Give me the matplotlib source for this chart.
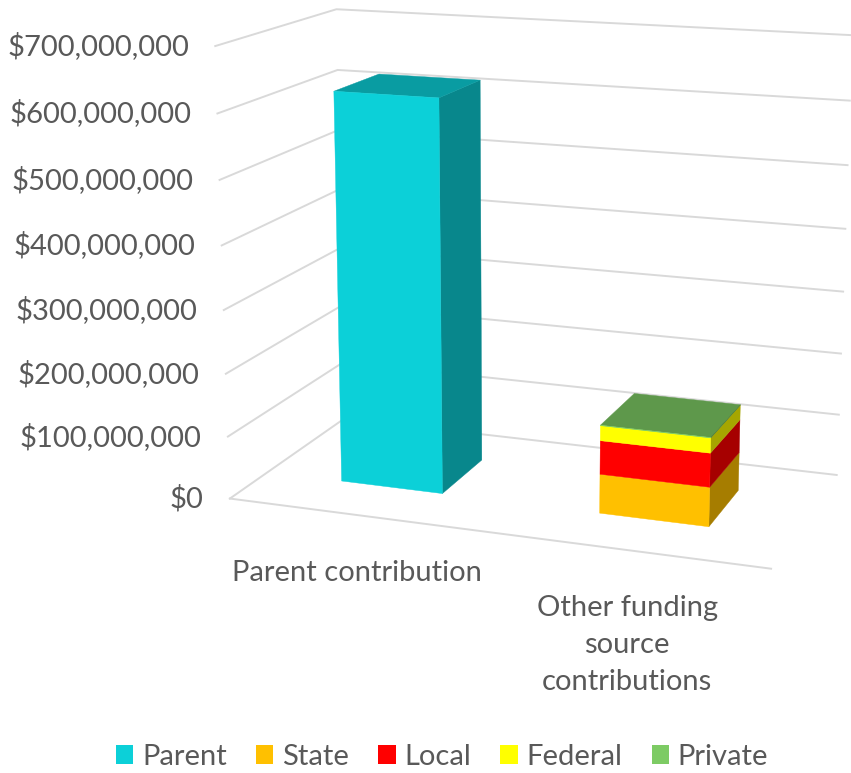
import numpy as np
import matplotlib
matplotlib.use("Agg")
import matplotlib.pyplot as plt
from matplotlib.colors import to_rgb
from matplotlib.patches import Patch
from mpl_toolkits.mplot3d import proj3d
from mpl_toolkits.mplot3d.art3d import Poly3DCollection

# funding data (dollars)
categories = ["Parent contribution", "Other funding\nsource\ncontributions"]
parent_values = [619_300_000, 0]
state_values = [0, 61_900_000]
local_values = [0, 53_000_000]
federal_values = [0, 23_600_000]
private_values = [0, 700_000]
series_names = ["Parent", "State", "Local", "Federal", "Private"]
series_colors = ["#0cd0d8", "#ffc000", "#ff0000", "#ffff00", "#7dcb64"]
yticks = np.arange(0, 800_000_000, 100_000_000)

W, H = 851, 773
TEXT = "#595959"
GRID = "#d9d9d9"
FS = 21
plt.rcParams["font.family"] = ["Lato", "DejaVu Sans"]

fig = plt.figure(figsize=(W / 100, H / 100), dpi=100)
ax = fig.add_axes([0, 0, 1, 1], projection="3d", computed_zorder=False)
ax.set_box_aspect((1, 1, 1))

# camera / box layout for the excel-like 3d look
cx, cy, size = 508.1, 494.0, 973.1
ax.set_position([(cx - size / 2) / W, (cy - size / 2) / H, size / W, size / H])
ax.set_xlim(-0.0763, 1.9832)
ax.set_ylim(-0.5768, 1.4787)
ax.set_zlim(-80_791_000, 796_954_000)
ax.set_proj_type("persp", focal_length=0.4381)
ax.view_init(elev=14.02, azim=-70.0, roll=0.0)
ax.set_axis_off()
ax.apply_aspect()

n_cat = len(categories)
x_max = float(n_cat)
half_w = 0.2          # gap width 150%
y_front, y_back = 0.311, 0.710


def to_fig(x, y, z):
    xs, ys, _ = proj3d.proj_transform(np.atleast_1d(x), np.atleast_1d(y), np.atleast_1d(z), ax.get_proj())
    d = ax.transData.transform(np.column_stack([xs, ys]))
    return d[:, 0], d[:, 1]


def shade(color, k):
    return tuple(c * k for c in to_rgb(color))


# walls: left wall + back wall gridlines, plus floor front edge
for v in yticks:
    ax.plot([0, 0, x_max], [0, 1, 1], [v, v, v], color=GRID, lw=1.4, zorder=1)
ax.plot([0, x_max], [0, 0], [0, 0], color=GRID, lw=1.4, zorder=1)

# bars: front and right faces of every segment, top face on the last one
stack = [parent_values, state_values, local_values, federal_values, private_values]
faces, cols = [], []
for i in range(n_cat):
    xa, xb = i + 0.5 - half_w, i + 0.5 + half_w
    base = 0.0
    segs = [(stack[k][i], series_colors[k]) for k in range(len(stack)) if stack[k][i] > 0]
    for j, (val, col) in enumerate(segs):
        z0, z1 = base, base + val
        faces.append([(xa, y_front, z0), (xb, y_front, z0), (xb, y_front, z1), (xa, y_front, z1)])
        cols.append(to_rgb(col))
        faces.append([(xb, y_front, z0), (xb, y_back, z0), (xb, y_back, z1), (xb, y_front, z1)])
        cols.append(shade(col, 0.65))
        if j == len(segs) - 1:
            faces.append([(xa, y_front, z1), (xb, y_front, z1), (xb, y_back, z1), (xa, y_back, z1)])
            cols.append(shade(col, 0.75))
        base = z1
ax.add_collection3d(Poly3DCollection(faces, facecolors=cols, edgecolors=cols,
                                     linewidths=0.3, zorder=2))

# value axis labels next to the front edge of the left wall
px, py = to_fig(np.zeros(len(yticks)), np.zeros(len(yticks)), yticks)
for v, a, b in zip(yticks, px, py):
    fig.text((a - 26) / W, b / H, "${:,.0f}".format(v), ha="right", va="center",
             fontsize=FS, color=TEXT)

# category labels under the floor
px, py = to_fig(np.arange(n_cat) + 0.5, np.zeros(n_cat), np.zeros(n_cat))
for lab, a, b in zip(categories, px, py):
    fig.text(a / W, (b - 45) / H, lab, ha="center", va="top", fontsize=FS,
             color=TEXT, linespacing=1.52, multialignment="center")

handles = [Patch(facecolor=c, edgecolor="none") for c in series_colors]
fig.legend(handles, series_names, loc="center", bbox_to_anchor=(442 / W, 16 / H),
           ncol=5, frameon=False, fontsize=FS, labelcolor=TEXT,
           handlelength=0.6, handleheight=0.6, handletextpad=0.3, columnspacing=1.0)

fig.savefig("out.png", dpi=100)
